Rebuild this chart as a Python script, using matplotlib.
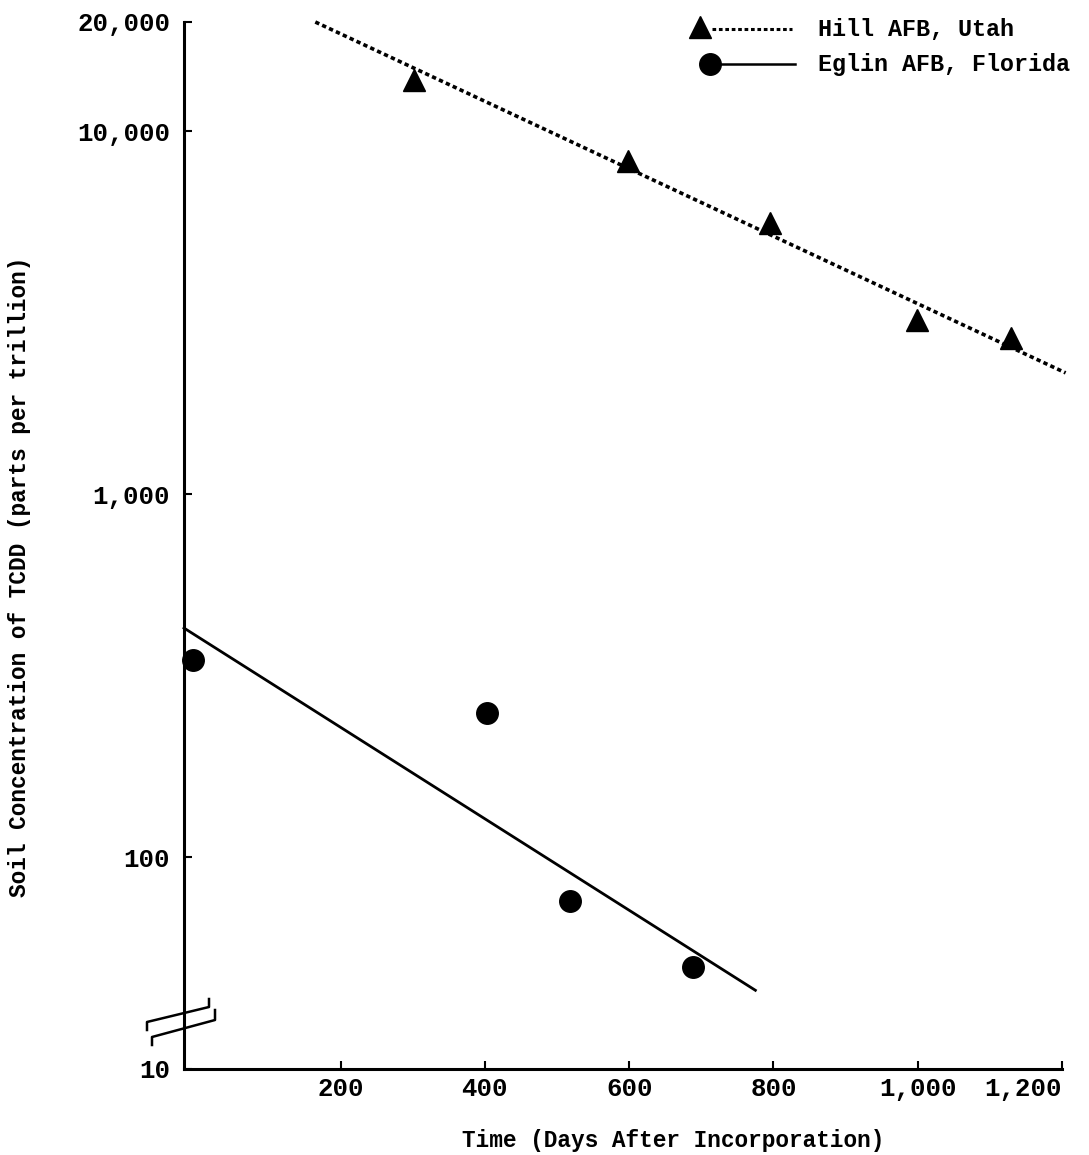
import matplotlib
matplotlib.use("Agg")
import matplotlib.pyplot as plt
import numpy as np

# ---- data ----
hill_days = [302, 599, 795, 999, 1130]
hill_ppt = [13800, 8300, 5580, 3020, 2700]
hill_fit_days = [165, 1205]
hill_fit_ppt = [20000, 2160]

eglin_days = [-5, 403, 518, 688]
eglin_ppt = [349, 250, 76.0, 50.0]
eglin_fit_days = [-17, 775]
eglin_fit_ppt = [428, 43]

x_ticks = [200, 400, 600, 800, 1000, 1200]
x_tick_labels = ["200", "400", "600", "800", "1,000", "1,200"]
y_bottom = 26.1
y_ticks = [y_bottom, 100, 1000, 10000, 20000]
y_tick_labels = ["10", "100", "1,000", "10,000", "20,000"]

FONT = ["Liberation Mono", "DejaVu Sans Mono"]
plt.rcParams["font.family"] = FONT

W, H = 1089, 1155
fig = plt.figure(figsize=(W / 100, H / 100), dpi=100)
L, R, T, B = 184, 1062, 22, 1069
ax = fig.add_axes([L / W, 1 - B / H, (R - L) / W, (B - T) / H])

ax.set_yscale("log")
ax.set_xlim(-17, 1200)
ax.set_ylim(y_bottom, 20000)

ax.plot(hill_fit_days, hill_fit_ppt, color="black", lw=2.6,
        linestyle=(0, (1.2, 0.9)), clip_on=False)
ax.plot(hill_days, hill_ppt, linestyle="none", marker="^", ms=16,
        color="black", clip_on=False)
ax.plot(eglin_fit_days, eglin_fit_ppt, color="black", lw=2.0, clip_on=False)
ax.plot(eglin_days, eglin_ppt, linestyle="none", marker="o", ms=15.5,
        color="black", clip_on=False)

for s in ["top", "right"]:
    ax.spines[s].set_visible(False)
for s in ["left", "bottom"]:
    ax.spines[s].set_linewidth(2.2)

ax.set_xticks(x_ticks)
ax.set_xticklabels(x_tick_labels)
ax.set_yticks(y_ticks)
ax.set_yticklabels(y_tick_labels)
ax.minorticks_off()
ax.tick_params(axis="both", direction="in", length=6, width=1.5,
               labelsize=18.5)
ax.tick_params(axis="y", pad=10)
ax.tick_params(axis="x", pad=6)
for lab in ax.get_xticklabels() + ax.get_yticklabels():
    lab.set_fontweight("bold")
ax.get_xticklabels()[-1].set_horizontalalignment("right")

# axis labels
fig.text(673 / W, 1 - 1140 / H, "Time (Days After Incorporation)",
         ha="center", va="center", fontsize=16.4, fontweight="bold")
fig.text(20 / W, 1 - 577 / H, "Soil Concentration of TCDD (parts per trillion)",
         ha="center", va="center", rotation=90, fontsize=16.4, fontweight="bold")

# axis break marks (pixel coords -> figure fraction)
def px(xs, ys):
    return [x / W for x in xs], [1 - y / H for y in ys]

for xs, ys in [([147, 147, 209, 209], [1030, 1022, 1007, 999]),
               ([152, 152, 215, 215], [1045, 1037, 1020, 1010])]:
    fx, fy = px(xs, ys)
    fig.add_artist(plt.Line2D(fx, fy, color="black", lw=1.8))

# legend drawn manually
fx, fy = px([700], [27])
fig.add_artist(plt.Line2D(fx, fy, marker="^", ms=16, color="black", linestyle="none"))
fx, fy = px([712, 792], [29, 29])
fig.add_artist(plt.Line2D(fx, fy, color="black", lw=2.2, linestyle=(0, (1.2, 0.9))))
fig.text(818 / W, 1 - 30 / H, "Hill AFB, Utah", ha="left", va="center",
         fontsize=16.8, fontweight="bold")
fx, fy = px([710], [64])
fig.add_artist(plt.Line2D(fx, fy, marker="o", ms=15.5, color="black", linestyle="none"))
fx, fy = px([722, 795], [64, 64])
fig.add_artist(plt.Line2D(fx, fy, color="black", lw=1.8))
fig.text(818 / W, 1 - 64 / H, "Eglin AFB, Florida", ha="left", va="center",
         fontsize=16.8, fontweight="bold")

fig.savefig("out.png", dpi=100)
